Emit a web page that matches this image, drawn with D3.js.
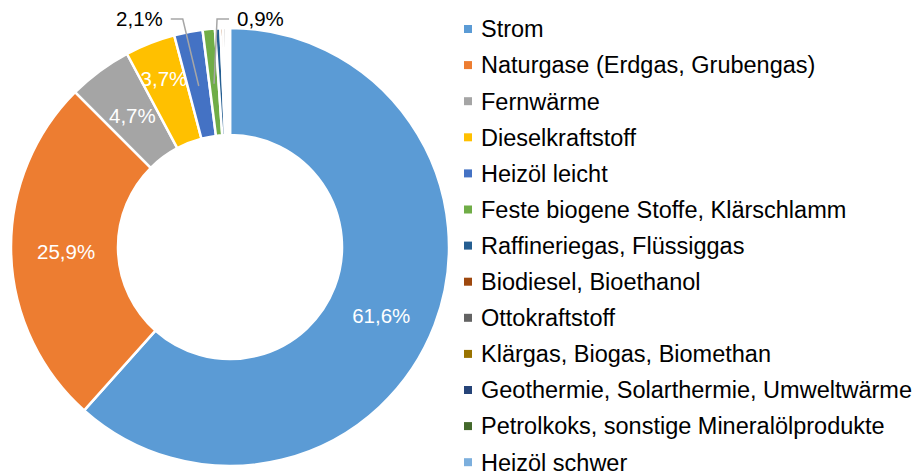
<!DOCTYPE html>
<html>
<head>
<meta charset="utf-8">
<script src="https://cdn.jsdelivr.net/npm/d3@7"></script>
<style>
  body { margin: 0; background: #fff; }
  svg { display: block; font-family: "Liberation Sans", Arial, sans-serif; }
</style>
</head>
<body>
<svg width="921" height="474"></svg>
<script>
const categories = [
  "Strom",
  "Naturgase (Erdgas, Grubengas)",
  "Fernwärme",
  "Dieselkraftstoff",
  "Heizöl leicht",
  "Feste biogene Stoffe, Klärschlamm",
  "Raffineriegas, Flüssiggas",
  "Biodiesel, Bioethanol",
  "Ottokraftstoff",
  "Klärgas, Biogas, Biomethan",
  "Geothermie, Solarthermie, Umweltwärme",
  "Petrolkoks, sonstige Mineralölprodukte",
  "Heizöl schwer"
];
const shares = [61.6, 25.9, 4.7, 3.7, 2.1, 0.9, 0.4, 0.2, 0.2, 0.1, 0.1, 0.05, 0.05];
const colors = [
  "#5B9BD5", "#ED7D31", "#A5A5A5", "#FFC000", "#4472C4", "#70AD47",
  "#255E91", "#9E480E", "#636363", "#997300", "#264478", "#43682B", "#7CAFDD"
];
// labels shown: inside (white) or outside with leader line
const labelInside = ["61,6%", "25,9%", "4,7%", "3,7%"];
const labelOutside = ["2,1%", "0,9%"];

const svg = d3.select("svg");
const cx = 230, cy = 247;
const outerR = 219, innerR = 112;

const color = d3.scaleOrdinal().domain(categories).range(colors);

const data = categories.map((c, i) => ({ name: c, value: shares[i] }));

const pie = d3.pie()
  .value(d => d.value)
  .sort(null);

const arc = d3.arc()
  .innerRadius(innerR)
  .outerRadius(outerR);

const labelArc = d3.arc()
  .innerRadius(innerR + 52)
  .outerRadius(innerR + 52);

// label nudges, as placed in the original
const insideRadius = [166, 164, 164, 181];
const insideAngleShift = [0.06, 0, 0, 0];

const arcs = pie(data);

const g = svg.append("g")
  .attr("transform", `translate(${cx},${cy})`);

g.selectAll("path.slice")
  .data(arcs)
  .enter().append("path")
  .attr("class", "slice")
  .attr("d", arc)
  .attr("fill", d => color(d.data.name))
  .attr("stroke", "#fff")
  .attr("stroke-width", 2.5)
  .attr("stroke-linejoin", "round");

// inside labels
g.selectAll("text.inside")
  .data(arcs.slice(0, labelInside.length))
  .enter().append("text")
  .attr("class", "inside")
  .attr("transform", (d, i) => {
    const a = (d.startAngle + d.endAngle) / 2 + insideAngleShift[i];
    const r = insideRadius[i];
    return `translate(${r * Math.sin(a)},${-r * Math.cos(a)})`;
  })
  .attr("text-anchor", "middle")
  .attr("dy", "0.36em")
  .attr("fill", "#fff")
  .attr("font-size", 20.5)
  .text((d, i) => labelInside[i]);

// outside labels with leader lines
const outArcs = arcs.slice(labelInside.length, labelInside.length + labelOutside.length);
const lineY = -outerR - 9;
const sides = [-1, 1];

outArcs.forEach((d, i) => {
  const [px, py] = labelArc.centroid(d);
  const side = sides[i];
  const elbowX = side < 0 ? px - 16 : px + 3;
  const endX = elbowX + side * 12;
  g.append("polyline")
    .attr("points", `${px},${py} ${elbowX},${lineY} ${endX},${lineY}`)
    .attr("fill", "none")
    .attr("stroke", "#A6A6A6")
    .attr("stroke-width", 1.5);
  g.append("text")
    .attr("x", endX + side * 8)
    .attr("y", lineY)
    .attr("dy", "0.36em")
    .attr("text-anchor", side < 0 ? "end" : "start")
    .attr("fill", "#000")
    .attr("font-size", 20.5)
    .text(labelOutside[i]);
});

// legend
const legendY = d3.scaleLinear()
  .domain([0, categories.length - 1])
  .range([37.3, 37.3 + 36.1 * (categories.length - 1)]);

const legend = svg.append("g")
  .attr("class", "legend")
  .selectAll("g")
  .data(categories)
  .enter().append("g")
  .attr("transform", (d, i) => `translate(464,${legendY(i)})`);

legend.append("rect")
  .attr("x", 0)
  .attr("y", -12.3)
  .attr("width", 8)
  .attr("height", 8)
  .attr("fill", d => color(d));

legend.append("text")
  .attr("x", 17)
  .attr("y", 0)
  .attr("fill", "#000")
  .attr("font-size", 23.5)
  .text(d => d);
</script>
</body>
</html>
